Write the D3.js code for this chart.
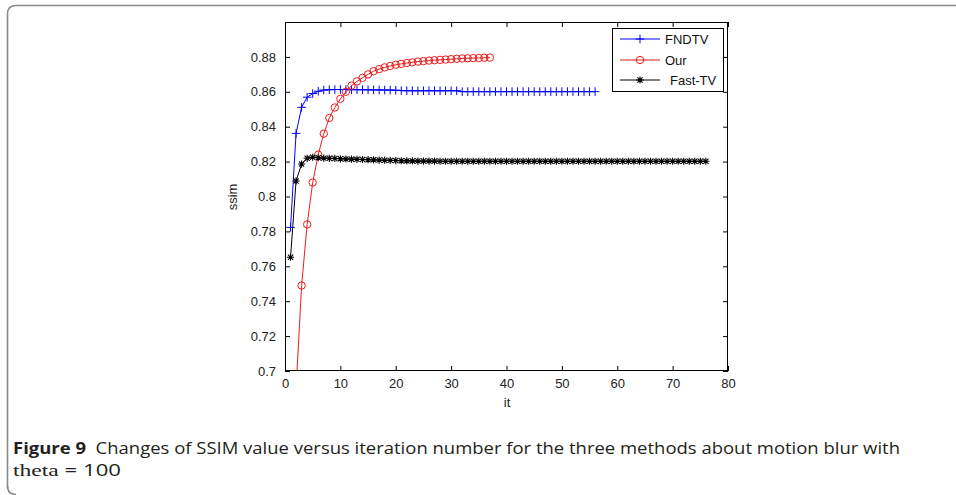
<!DOCTYPE html>
<html>
<head>
<meta charset="utf-8">
<script src="https://cdn.jsdelivr.net/npm/d3@7"></script>
<style>
  html, body { margin: 0; padding: 0; background: #fff; }
  svg { display: block; }
</style>
</head>
<body>
<svg id="chart" width="956" height="495"></svg>
<script>
// ---------- data ----------
const xTicks = [0, 10, 20, 30, 40, 50, 60, 70, 80];
const yTicks = [0.7, 0.72, 0.74, 0.76, 0.78, 0.8, 0.82, 0.84, 0.86, 0.88];
const yTickLabels = ["0.7", "0.72", "0.74", "0.76", "0.78", "0.8", "0.82", "0.84", "0.86", "0.88"];
const seriesNames = ["FNDTV", "Our", "Fast-TV"];

// FNDTV, iterations 1..56
const fndtv = [0.7823, 0.8362, 0.8511, 0.8569, 0.8590, 0.8603, 0.8610, 0.8612, 0.8613, 0.8613,
  0.8613, 0.8612, 0.8612, 0.8612, 0.8611, 0.8611, 0.8611, 0.8610, 0.8610, 0.8609,
  0.8607, 0.8606, 0.8606, 0.8606, 0.8606, 0.8606, 0.8606, 0.8606, 0.8606, 0.8606,
  0.8606, 0.8601, 0.8601, 0.8601, 0.8601, 0.8601, 0.8601, 0.8601, 0.8601, 0.8601,
  0.8601, 0.8601, 0.8601, 0.8601, 0.8601, 0.8601, 0.8601, 0.8601, 0.8601, 0.8601,
  0.8601, 0.8601, 0.8601, 0.8601, 0.8601, 0.8601];

// Our, iterations 1..37
const our = [0.620, 0.690, 0.749, 0.784, 0.808, 0.824, 0.836, 0.845, 0.851, 0.856,
  0.860, 0.8635, 0.866, 0.868, 0.870, 0.8718, 0.873, 0.874, 0.8748, 0.8755,
  0.8760, 0.8765, 0.8769, 0.8773, 0.8776, 0.8779, 0.8781, 0.8783, 0.8785, 0.8787,
  0.8789, 0.8791, 0.8792, 0.8793, 0.8794, 0.8795, 0.8796];

// Fast-TV, iterations 1..76
const fastTV = [0.7652, 0.8089, 0.8186, 0.8219, 0.8225, 0.8222, 0.8220, 0.8219, 0.8218, 0.8216,
  0.8215, 0.8214, 0.8213, 0.8212, 0.8211, 0.8210, 0.8209, 0.8208, 0.8207, 0.8206,
  0.8205, 0.8204, 0.8204, 0.8203, 0.8203, 0.8203, 0.8203, 0.8202, 0.8202, 0.8202,
  0.8202, 0.8202, 0.8202, 0.8202, 0.8202, 0.8202, 0.8202, 0.8202, 0.8202, 0.8202,
  0.8202, 0.8202, 0.8202, 0.8202, 0.8202, 0.8202, 0.8202, 0.8202, 0.8202, 0.8202,
  0.8202, 0.8202, 0.8202, 0.8202, 0.8202, 0.8202, 0.8202, 0.8202, 0.8202, 0.8202,
  0.8202, 0.8202, 0.8202, 0.8202, 0.8202, 0.8202, 0.8202, 0.8202, 0.8202, 0.8202,
  0.8202, 0.8202, 0.8202, 0.8202, 0.8202, 0.8202];

const captionBold = "Figure 9";
const captionLine1 = "Changes of SSIM value versus iteration number for the three methods about motion blur with";
const captionTheta = "theta";
const captionRest = " = 100";

// ---------- layout ----------
const svg = d3.select("#chart");
const L = 285, R = 728, T = 22, B = 371;
const x = d3.scaleLinear().domain([0, 80]).range([L, R]);
const y = d3.scaleLinear().domain([0.7, 0.9]).range([B, T]);
const axisFont = "'Liberation Sans', Arial, sans-serif";
const axisSize = "13px";

// outer figure border (rounded left/top)
svg.append("path")
  .attr("d", "M7.5,488 L7.5,14 Q7.5,5.5 16,5.5 L956,5.5")
  .attr("fill", "none").attr("stroke", "#8a8a8a").attr("stroke-width", 1.6);
svg.append("path")
  .attr("d", "M7.5,486 Q7.5,494.5 16,494.5")
  .attr("fill", "none").attr("stroke", "#8a8a8a").attr("stroke-width", 1.6);

// clip
svg.append("clipPath").attr("id", "plotclip")
  .append("rect").attr("x", L).attr("y", T).attr("width", R - L).attr("height", B - T);

// axes
const tickLen = 5;
const xAxisB = d3.axisBottom(x).tickValues(xTicks).tickSize(-tickLen).tickPadding(8).tickFormat(d3.format("d"));
const xAxisT = d3.axisTop(x).tickValues(xTicks).tickSize(-tickLen).tickFormat("");
const yAxisL = d3.axisLeft(y).tickValues(yTicks).tickSize(-tickLen).tickPadding(9)
  .tickFormat((d, i) => yTickLabels[i]);
const yAxisR = d3.axisRight(y).tickValues(yTicks).tickSize(-tickLen).tickFormat("");

function styleAxis(g) {
  g.select(".domain").remove();
  g.selectAll("line").attr("stroke", "#000").attr("stroke-width", 1);
  g.selectAll("text").attr("fill", "#222").style("font-family", axisFont).style("font-size", axisSize);
}
svg.append("g").attr("transform", `translate(0,${B})`).call(xAxisB).call(styleAxis);
svg.append("g").attr("transform", `translate(0,${T})`).call(xAxisT).call(styleAxis);
svg.append("g").attr("transform", `translate(${L},0)`).call(yAxisL).call(styleAxis);
svg.append("g").attr("transform", `translate(${R},0)`).call(yAxisR).call(styleAxis);

// frame
svg.append("rect").attr("x", L + 0.5).attr("y", T + 0.5).attr("width", R - L - 1).attr("height", B - T - 1)
  .attr("fill", "none").attr("stroke", "#000").attr("stroke-width", 1);

// axis labels
svg.append("text").attr("x", (L + R) / 2 + 0.5).attr("y", 407).attr("text-anchor", "middle")
  .style("font-family", axisFont).style("font-size", axisSize).attr("fill", "#222").text("it");
svg.append("text").attr("transform", `translate(237,197) rotate(-90)`).attr("text-anchor", "middle")
  .style("font-family", axisFont).style("font-size", axisSize).attr("fill", "#222").text("ssim");

// markers
function plusPath(cx, cy, s) { return `M${cx - s},${cy}H${cx + s}M${cx},${cy - s}V${cy + s}`; }
function starPath(cx, cy, s) {
  const d = s * 0.72;
  return plusPath(cx, cy, s) + `M${cx - d},${cy - d}L${cx + d},${cy + d}M${cx - d},${cy + d}L${cx + d},${cy - d}`;
}

const series = [
  { name: seriesNames[0], values: fndtv, color: "#0000ff", marker: "plus" },
  { name: seriesNames[1], values: our, color: "#ee1c1c", marker: "circle" },
  { name: seriesNames[2], values: fastTV, color: "#000000", marker: "star" }
];

const plot = svg.append("g").attr("clip-path", "url(#plotclip)");
const line = d3.line().x((d, i) => x(i + 1)).y(d => y(d));

function drawMarker(g, m, cx, cy, color) {
  if (m === "plus") {
    g.append("path").attr("d", plusPath(cx, cy, 4.3)).attr("stroke", color).attr("stroke-width", 1).attr("fill", "none");
  } else if (m === "circle") {
    g.append("circle").attr("cx", cx).attr("cy", cy).attr("r", 3.7).attr("stroke", color).attr("stroke-width", 1).attr("fill", "none");
  } else {
    g.append("path").attr("d", starPath(cx, cy, 3.6)).attr("stroke", color).attr("stroke-width", 1.1).attr("fill", "none");
  }
}

series.forEach(s => {
  plot.append("path").datum(s.values).attr("d", line)
    .attr("fill", "none").attr("stroke", s.color).attr("stroke-width", 1);
  const mg = plot.append("g");
  s.values.forEach((v, i) => drawMarker(mg, s.marker, x(i + 1), y(v), s.color));
});

// legend
const lg = svg.append("g");
lg.append("rect").attr("x", 612.5).attr("y", 28.5).attr("width", 111).attr("height", 63)
  .attr("fill", "#fff").attr("stroke", "#000").attr("stroke-width", 1);
const legY = [39, 60, 80];
const legTextX = [665, 665, 670];
series.forEach((s, i) => {
  lg.append("line").attr("x1", 620).attr("x2", 660).attr("y1", legY[i]).attr("y2", legY[i])
    .attr("stroke", s.color).attr("stroke-width", 1);
  drawMarker(lg, s.marker, 640, legY[i], s.color);
  lg.append("text").attr("x", legTextX[i]).attr("y", legY[i] + 4.8)
    .style("font-family", axisFont).style("font-size", axisSize).attr("fill", "#111").text(s.name);
});

// caption
const capFont = "'Open Sans', 'Noto Sans', sans-serif";
const cap1 = svg.append("text").attr("x", 13).attr("y", 454)
  .style("font-family", capFont).style("font-size", "15.5px").attr("fill", "#231f20");
cap1.append("tspan").style("font-weight", "bold").text(captionBold);
cap1.append("tspan").text("\u00a0\u00a0" + captionLine1);
cap1.attr("textLength", 887).attr("lengthAdjust", "spacingAndGlyphs");

const cap2 = svg.append("text").attr("x", 13).attr("y", 476)
  .style("font-size", "15.5px").attr("fill", "#231f20");
cap2.append("tspan").style("font-family", "'Liberation Serif', 'DejaVu Serif', serif").style("font-size", "16.5px").text(captionTheta);
cap2.append("tspan").style("font-family", capFont).text(captionRest);
cap2.attr("textLength", 108).attr("lengthAdjust", "spacingAndGlyphs");
</script>
</body>
</html>
